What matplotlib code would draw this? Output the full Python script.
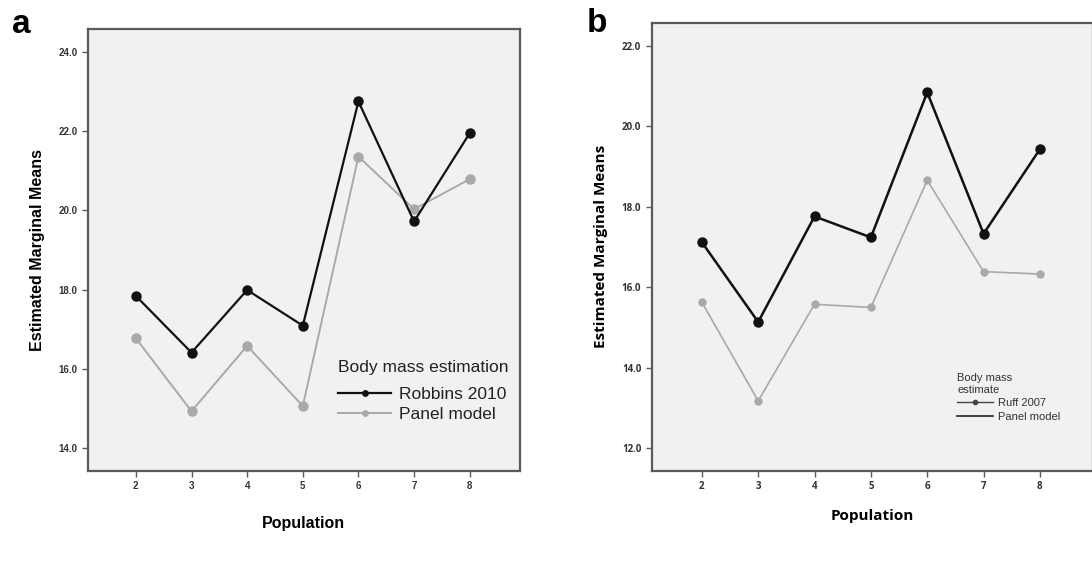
import matplotlib
matplotlib.use("Agg")
import matplotlib.pyplot as plt

population = [2, 3, 4, 5, 6, 7, 8]

# panel a
robbins_2010 = [17.84, 16.41, 17.99, 17.09, 22.75, 19.72, 21.95]
panel_model_a = [16.77, 14.93, 16.58, 15.06, 21.36, 20.03, 20.79]
yticks_a = [14.0, 16.0, 18.0, 20.0, 22.0, 24.0]

# panel b
ruff_2007 = [17.12, 15.14, 17.76, 17.24, 20.84, 17.33, 19.43]
panel_model_b = [15.63, 13.18, 15.58, 15.50, 18.66, 16.39, 16.33]
yticks_b = [12.0, 14.0, 16.0, 18.0, 20.0, 22.0]

plt.rcParams['font.family'] = ['Liberation Sans', 'DejaVu Sans']

fig = plt.figure(figsize=(10.92, 5.63), dpi=100)
ax_a = fig.add_axes([0.0806, 0.1634, 0.3954, 0.7851])
ax_b = fig.add_axes([0.5968, 0.1634, 0.4040, 0.7963])

black = '#111111'
grey = '#a9a9a9'
bg = '#f1f1f1'
spine_col = '#5a5a5a'


def style(ax, yticks, xlim, ylim, family, xpad, lsize):
    ax.set_facecolor(bg)
    for s in ax.spines.values():
        s.set_color(spine_col)
        s.set_linewidth(1.6)
    ax.set_xlim(*xlim)
    ax.set_ylim(*ylim)
    ax.set_xticks(population)
    ax.set_xticklabels([str(p) for p in population])
    ax.set_yticks(yticks)
    ax.set_yticklabels(['%.1f' % v for v in yticks])
    ax.tick_params(axis='both', direction='out', length=4, width=1,
                   color=spine_col, labelsize=7, labelcolor='#333333')
    for t in ax.get_xticklabels() + ax.get_yticklabels():
        t.set_fontweight('bold')
        t.set_family(family)
    ax.set_xlabel('Population', fontsize=lsize, fontweight='bold',
                  labelpad=xpad, family=family)
    ax.set_ylabel('Estimated Marginal Means', fontsize=lsize,
                  fontweight='bold', labelpad=10, family=family)


# panel a
ax_a.plot(population, robbins_2010, color=black, lw=1.6, marker='o',
          ms=6.5, label='Robbins 2010', zorder=3)
ax_a.plot(population, panel_model_a, color=grey, lw=1.4, marker='o',
          ms=6.5, label='Panel model', zorder=2)
style(ax_a, yticks_a, (1.14, 8.9), (13.42, 24.58),
      ['Liberation Sans', 'DejaVu Sans'], 18, 11.5)
leg_a = ax_a.legend(loc='upper left', bbox_to_anchor=(0.56, 0.27),
                    frameon=False, fontsize=12.5, title='Body mass estimation',
                    title_fontsize=12.5, alignment='left', markerscale=0.6,
                    handlelength=3.0, handletextpad=0.5, labelspacing=0.3,
                    borderpad=0)
leg_a._legend_box.sep = 8
for t in leg_a.get_texts() + [leg_a.get_title()]:
    t.set_color('#222222')

# panel b
ax_b.plot(population, ruff_2007, color=black, lw=1.8, marker='o',
          ms=6.5, label='Ruff 2007', zorder=3)
ax_b.plot(population, panel_model_b, color=grey, lw=1.2, marker='o',
          ms=5, label='Panel model', zorder=2)
style(ax_b, yticks_b, (1.11, 8.94), (11.44, 22.57),
      ['Open Sans', 'DejaVu Sans'], 12, 11)
leg_b = ax_b.legend(handles=[plt.Line2D([], [], color='#444444', lw=1, marker='o', ms=3),
                             plt.Line2D([], [], color='#222222', lw=1.2)],
                    labels=['Ruff 2007', 'Panel model'],
                    loc='upper left', bbox_to_anchor=(0.68, 0.23),
                    frameon=False, fontsize=8, title='Body mass\nestimate',
                    title_fontsize=8, alignment='left',
                    handlelength=3.2, handletextpad=0.5, labelspacing=0.3,
                    borderpad=0)
for t in leg_b.get_texts() + [leg_b.get_title()]:
    t.set_color('#333333')

fig.text(0.011, 0.941, 'a', fontsize=24, fontweight='bold', va='baseline')
fig.text(0.5375, 0.943, 'b', fontsize=24, fontweight='bold', va='baseline')

fig.savefig('out.png', dpi=100)
